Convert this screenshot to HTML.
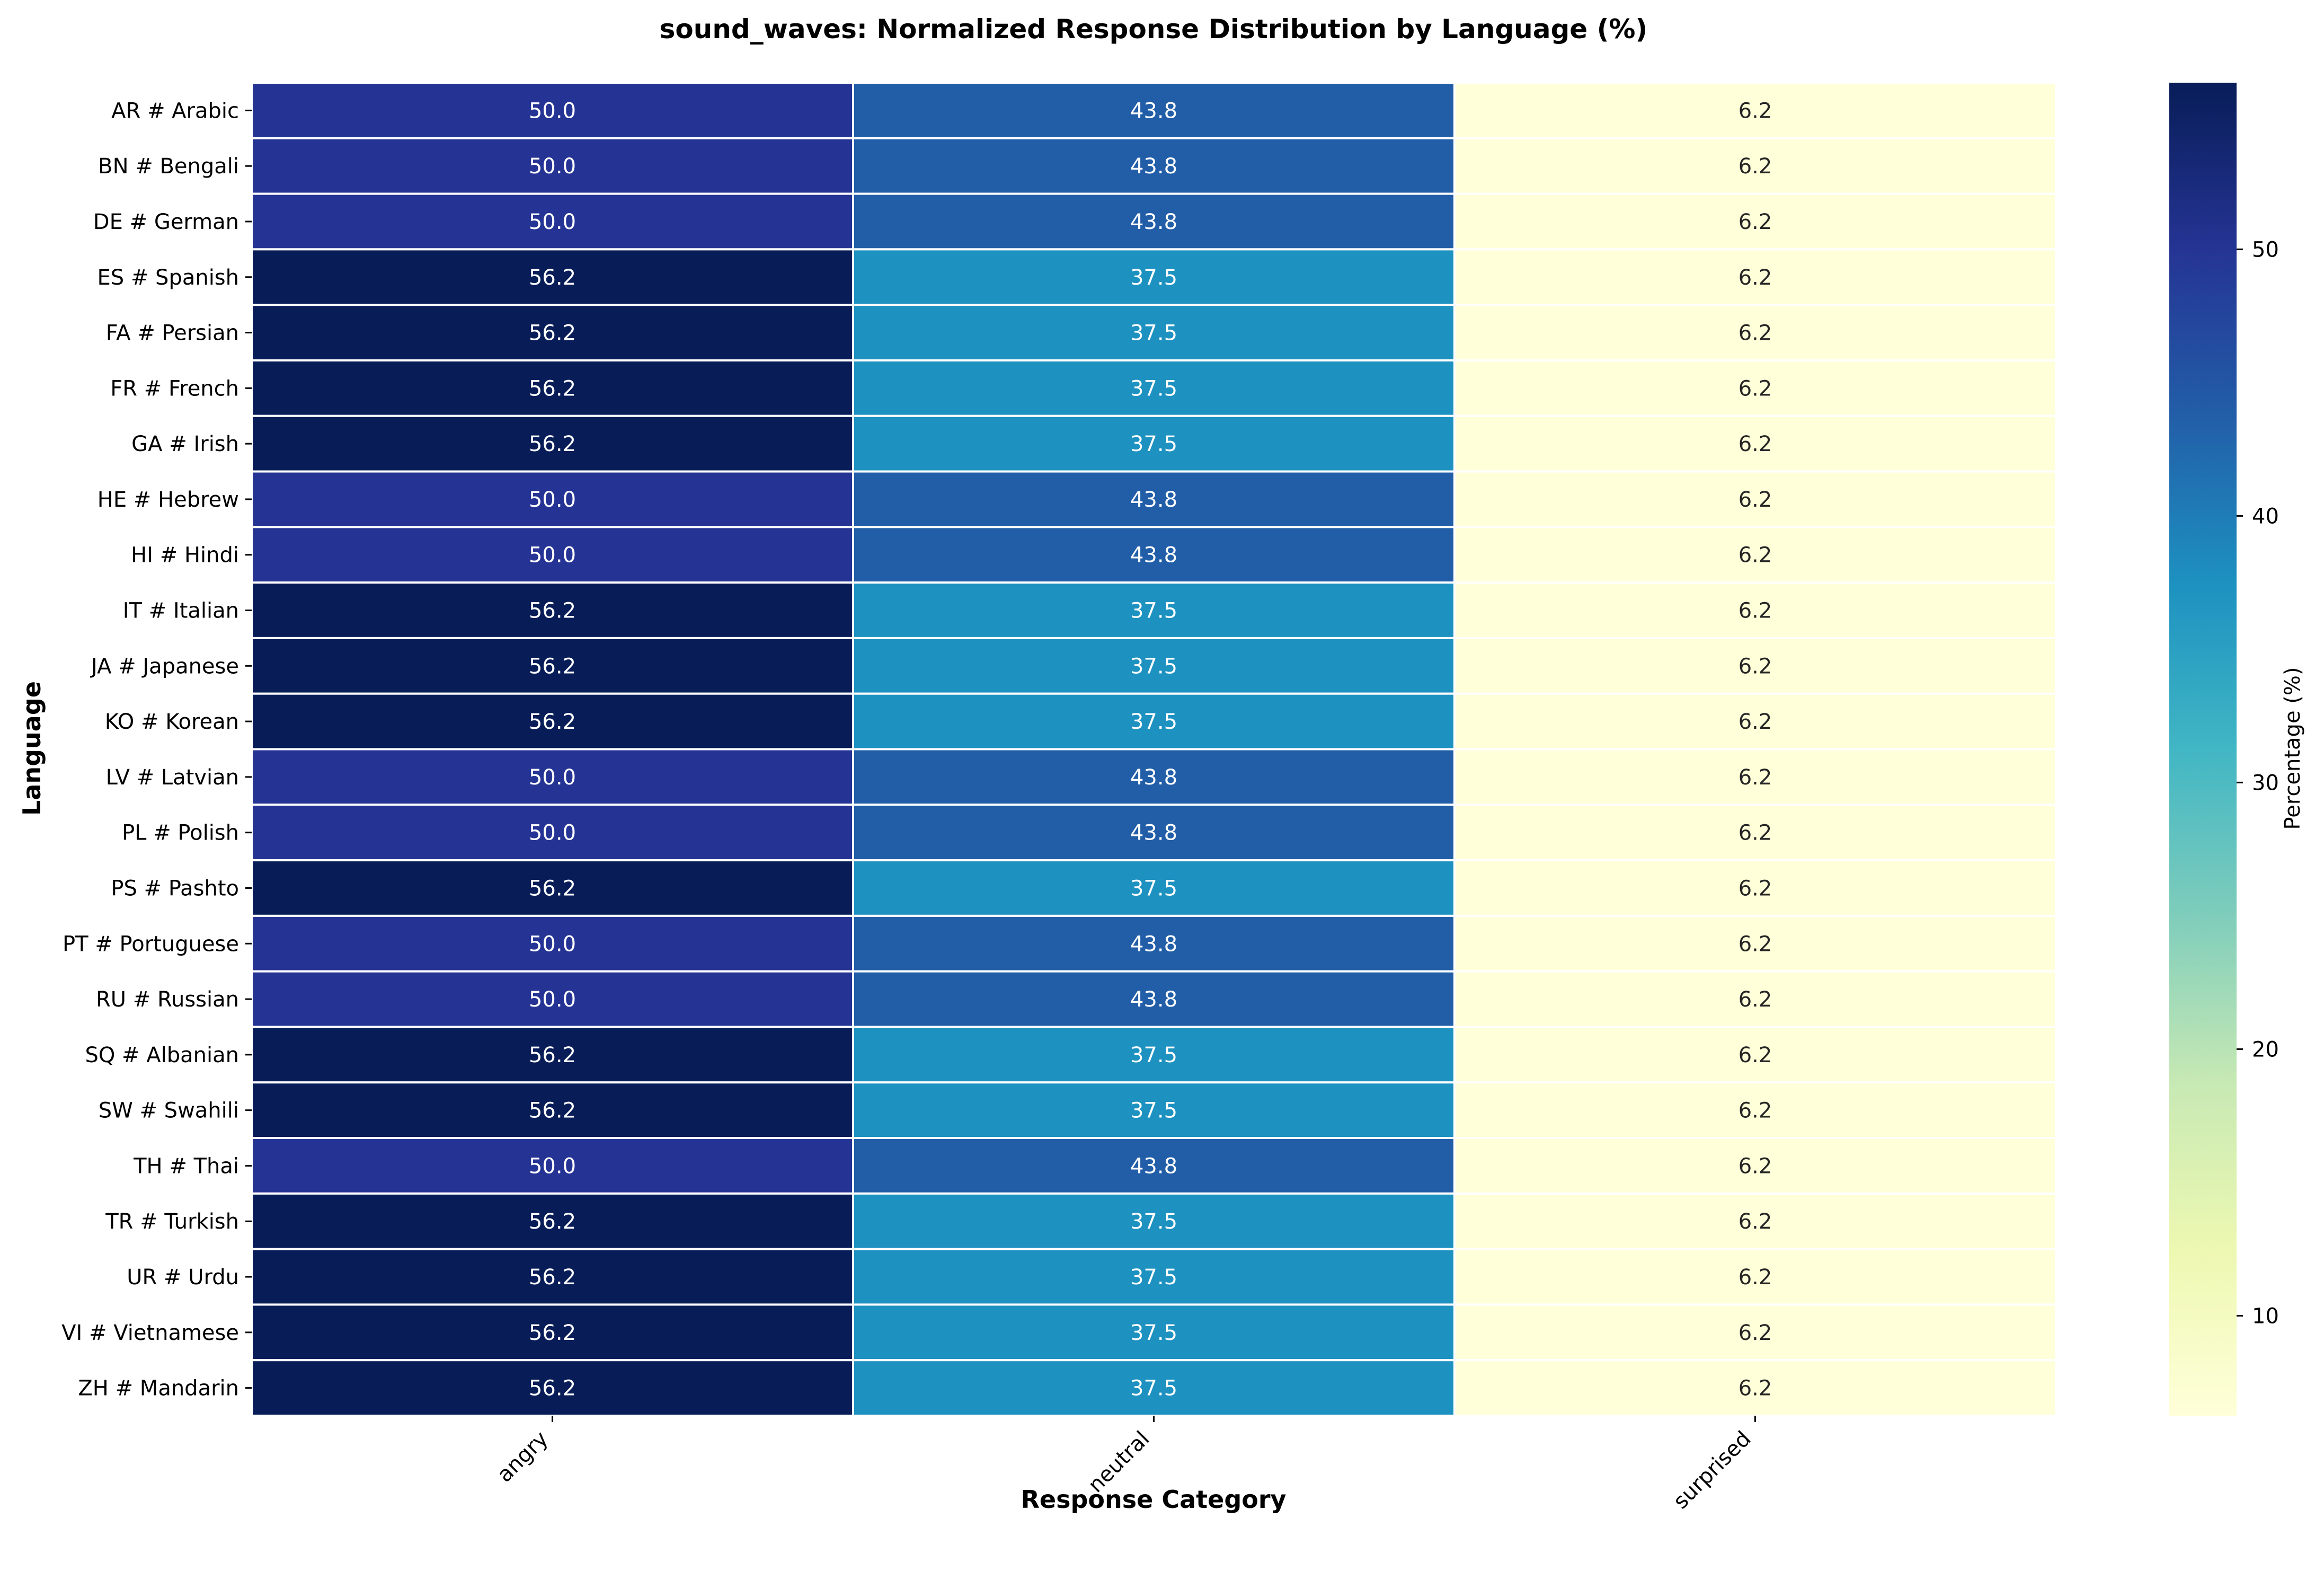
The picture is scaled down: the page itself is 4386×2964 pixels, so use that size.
<!DOCTYPE html>
<html><head><meta charset="utf-8"><style>
html,body{margin:0;padding:0;background:#fff;}
svg{display:block;font-family:"DejaVu Sans","Liberation Sans",sans-serif;}
</style></head><body>
<svg id="chart" width="4386" height="2964" viewBox="0 0 4386 2964" xmlns="http://www.w3.org/2000/svg">
<defs>
<linearGradient id="cbgrad" x1="0" y1="1" x2="0" y2="0">
<stop offset="0" stop-color="#ffffd9"/><stop offset="0.125" stop-color="#edf8b1"/><stop offset="0.25" stop-color="#c7e9b4"/><stop offset="0.375" stop-color="#7fcdbb"/><stop offset="0.5" stop-color="#41b6c4"/><stop offset="0.625" stop-color="#1d91c0"/><stop offset="0.75" stop-color="#225ea8"/><stop offset="0.875" stop-color="#253494"/><stop offset="1" stop-color="#081d58"/>
</linearGradient>
</defs>
<text x="2177" y="72" font-size="50" font-weight="bold" text-anchor="middle">sound_waves: Normalized Response Distribution by Language (%)</text>
<g id="cells"></g>
<g id="yticks"></g>
<g id="xticks"></g>
<text x="2177" y="2845" font-size="46" font-weight="bold" text-anchor="middle">Response Category</text>
<text transform="translate(76,1412) rotate(-90)" font-size="46" font-weight="bold" text-anchor="middle">Language</text>
<rect x="4094" y="156" width="127" height="2515" fill="url(#cbgrad)"/>
<g id="cbticks"></g>
<text transform="translate(4340,1412) rotate(-90)" font-size="40" text-anchor="middle">Percentage (%)</text>
</svg>
<script>
const languages = ["AR # Arabic","BN # Bengali","DE # German","ES # Spanish","FA # Persian","FR # French","GA # Irish","HE # Hebrew","HI # Hindi","IT # Italian","JA # Japanese","KO # Korean","LV # Latvian","PL # Polish","PS # Pashto","PT # Portuguese","RU # Russian","SQ # Albanian","SW # Swahili","TH # Thai","TR # Turkish","UR # Urdu","VI # Vietnamese","ZH # Mandarin"];
const categories = ["angry","neutral","surprised"];
const angry = [50,50,50,56.25,56.25,56.25,56.25,50,50,56.25,56.25,56.25,50,50,56.25,50,50,56.25,56.25,50,56.25,56.25,56.25,56.25];
const neutral = [43.75,43.75,43.75,37.5,37.5,37.5,37.5,43.75,43.75,37.5,37.5,37.5,43.75,43.75,37.5,43.75,43.75,37.5,37.5,43.75,37.5,37.5,37.5,37.5];
const surprised = [6.25,6.25,6.25,6.25,6.25,6.25,6.25,6.25,6.25,6.25,6.25,6.25,6.25,6.25,6.25,6.25,6.25,6.25,6.25,6.25,6.25,6.25,6.25,6.25];
const cbTicks = [10,20,30,40,50];

const NS="http://www.w3.org/2000/svg";
const L=475,R=3880,T=156,B=2671;
const vmin=6.25,vmax=56.25;
const series=[angry,neutral,surprised];
const cw=(R-L)/categories.length, rh=(B-T)/languages.length;
const xPos=i=>L+i*cw, yPos=j=>T+j*rh;
const cbY=v=>B-(v-vmin)/(vmax-vmin)*(B-T);
const stops=[[255,255,217],[237,248,177],[199,233,180],[127,205,187],[65,182,196],[29,145,192],[34,94,168],[37,52,148],[8,29,88]];
function cmap(v){let f=Math.max(0,Math.min(1,(v-vmin)/(vmax-vmin)))*8;let i=Math.min(7,Math.floor(f));let t=f-i;
 const c=stops[i].map((a,k)=>Math.round(a+(stops[i+1][k]-a)*t));return `rgb(${c[0]},${c[1]},${c[2]})`;}
function fmt(v){const x=v*10;const fl=Math.floor(x);const d=x-fl;let r;
 if(Math.abs(d-0.5)<1e-9){r=(fl%2===0)?fl:fl+1;}else{r=Math.round(x);}
 return (r/10).toFixed(1);}
function mk(tag,attrs,parent){const e=document.createElementNS(NS,tag);for(const k in attrs)e.setAttribute(k,attrs[k]);parent.appendChild(e);return e;}
const gc=document.getElementById('cells'),gy=document.getElementById('yticks'),gx=document.getElementById('xticks'),gcb=document.getElementById('cbticks');
series.forEach((s,i)=>{s.forEach((v,j)=>{
 const r=mk('rect',{x:xPos(i),y:yPos(j),width:cw,height:rh,fill:cmap(v),stroke:'#fff','stroke-width':4},gc);
 
 
 const t=mk('text',{x:xPos(i)+cw/2,y:yPos(j)+rh/2+14,'font-size':40,'text-anchor':'middle',fill:(v>30?'#fff':'#262626')},gc);
 t.textContent=fmt(v);
 
 
});});
languages.forEach((n,j)=>{const y=yPos(j)+rh/2;
 const l=mk('line',{x1:L-12,x2:L,y1:y,y2:y,stroke:'#000','stroke-width':3},gy);
 
 
 const t=mk('text',{x:L-24,y:y+14,'font-size':40,'text-anchor':'end'},gy);t.textContent=n;
 
 
});
categories.forEach((c,i)=>{const x=xPos(i)+cw/2;
 const l=mk('line',{x1:x,x2:x,y1:B,y2:B+12,stroke:'#000','stroke-width':3},gx);
 
 
 const t=mk('text',{transform:`translate(${x-6},${B+46}) rotate(-45)`,'font-size':40,'text-anchor':'end'},gx);t.textContent=c;
 
 
});
cbTicks.forEach(v=>{const y=cbY(v);
 const l=mk('line',{x1:4221,x2:4233,y1:y,y2:y,stroke:'#000','stroke-width':3},gcb);
 
 
 const t=mk('text',{x:4250,y:y+14,'font-size':40},gcb);t.textContent=v;
 
 
});
</script>
</body></html>
